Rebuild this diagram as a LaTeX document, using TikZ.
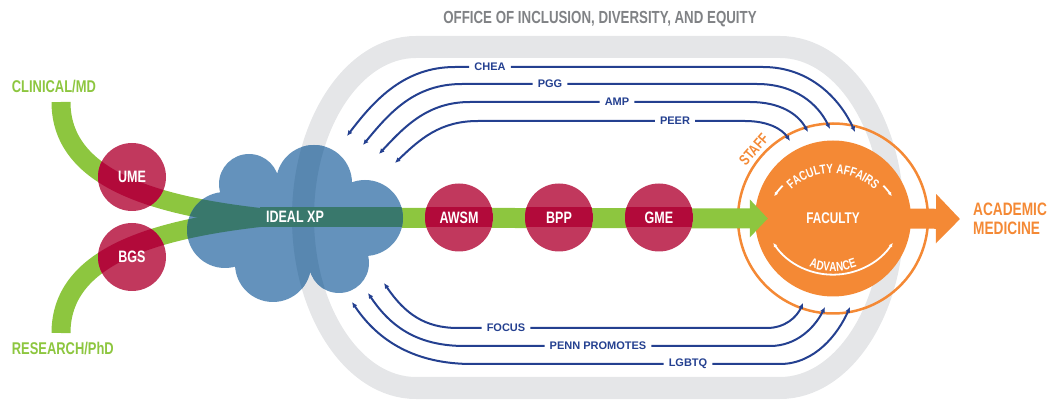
\documentclass[tikz,border=0pt]{standalone}
\usepackage{fontspec}
\setmainfont{Liberation Sans}
\newfontfamily\cnd{Liberation Sans}[FakeStretch=0.76]
\usetikzlibrary{arrows.meta, decorations.text, positioning}
\definecolor{ringgray}{RGB}{229,230,232}
\definecolor{titlegray}{RGB}{128,130,133}
\definecolor{flowgreen}{RGB}{141,198,63}
\definecolor{pennred}{RGB}{193,56,93}
\definecolor{deepred}{RGB}{178,10,58}
\definecolor{cloudblue}{RGB}{100,146,188}
\definecolor{cloudgray}{RGB}{88,135,176}
\definecolor{cloudgreen}{RGB}{57,120,108}
\definecolor{linkblue}{RGB}{36,64,144}
\definecolor{facorange}{RGB}{244,137,53}
\tikzset{
  flow/.style={flowgreen, line width=19pt},
  program/.style={
    circle, minimum size=68pt, inner sep=0pt,
    text=white, font=\cnd\bfseries\fontsize{16.5}{18}\selectfont
  },
  sidelabel/.style={font=\cnd\bfseries\fontsize{17}{19}\selectfont, inner sep=0pt},
  link/.style={linkblue, line width=2pt, -{Latex[length=5.5pt, width=5pt]}},
  linklabel/.style={text=linkblue, font=\bfseries\fontsize{11}{12}\selectfont, inner xsep=5pt, inner ysep=1pt},
  whitearc/.style={white, line width=1.8pt},
  arclabel/.style={decorate, decoration={text along path, text align=center, text color=white}}
}
\def\cloudpuffs{249/215/30, 314/216/38, 365/181/38, 339/136/30, 273/135/38, 225/169/38, 295/177/52}

\begin{document}
\begin{tikzpicture}[x=1pt, y=1pt]
    \useasboundingbox (0,0) rectangle (1047,399);
    % office ring
    \draw[ringgray, line width=22pt] (416,352) -- (780,352)
        arc[start angle=90, end angle=-90, x radius=113, y radius=170.5] -- (416,11)
        arc[start angle=270, end angle=90, x radius=113, y radius=170.5] -- cycle;
    \node[font=\cnd\bfseries\fontsize{17.5}{20}\selectfont, text=titlegray] (office) at (600,380)
        {OFFICE OF INCLUSION, DIVERSITY, AND EQUITY};

    % faculty
    \node[anchor=west, align=left, inner sep=0pt, text=facorange,
        font=\cnd\bfseries\fontsize{18}{19}\selectfont] (acmed) at (973,180) {ACADEMIC\\MEDICINE};
    \node[circle, fill=facorange, minimum size=156pt, inner sep=0pt, text=white,
        font=\cnd\bfseries\fontsize{15.5}{17}\selectfont] (faculty) at (833,180.5) {FACULTY};
    \draw[facorange, line width=20pt, -{Triangle[length=24pt, width=48pt]}]
        ([xshift=-3pt]faculty.east) -- ([xshift=-13pt]acmed.west);
    \draw[facorange, line width=2.5pt] (faculty.center) circle[radius=95];
    \node[text=facorange, rotate=49, inner sep=0pt, font=\cnd\bfseries\fontsize{15}{16}\selectfont] (staff)
        at ([shift={(139:105)}]faculty.center) {STAFF};
    \coordinate (affairs) at (833,164.7);
    \coordinate (advance) at (833,196.3);
    \draw[whitearc, -{Latex[length=4pt, width=4pt]}] ([shift={(136:70)}]affairs) arc[start angle=136, end angle=147, radius=70];
    \draw[whitearc, -{Latex[length=4pt, width=4pt]}] ([shift={(44:70)}]affairs) arc[start angle=44, end angle=33, radius=70];
    \path[arclabel, decoration={text={|\cnd\bfseries\fontsize{13}{13}\selectfont|FACULTY AFFAIRS}}]
        ([shift={(150:61)}]affairs) arc[start angle=150, end angle=30, radius=61];
    \draw[whitearc, {Latex[length=4pt, width=4pt]}-{Latex[length=4pt, width=4pt]}]
        ([shift={(214:72)}]advance) arc[start angle=214, end angle=326, radius=72];
    \path[arclabel, decoration={text={|\cnd\bfseries\fontsize{13}{13}\selectfont|ADVANCE}}]
        ([shift={(235:68.5)}]advance) arc[start angle=235, end angle=305, radius=68.5];

    % pathways
    \node[sidelabel, text=flowgreen, anchor=base west] (md) at (11.7,306.7) {CLINICAL/MD};
    \node[sidelabel, text=flowgreen, anchor=base west] (phd) at (11.7,45) {RESEARCH/PhD};
    \coordinate (md-in) at (61,297);
    \coordinate (phd-in) at (61,66);
    \coordinate (merge) at (260,181.5);
    \draw[flow] (md-in) .. controls (61,222) and (150,194) .. (merge);
    \draw[flow] (phd-in) .. controls (61,141) and (150,169) .. (merge);
    \draw[flow, line width=20pt, -{Triangle[length=18pt, width=37pt]}] (merge) -- ([xshift=13pt]faculty.west);

    % programs
    \fill[pennred] (132,222) circle[radius=34];
    \fill[pennred] (132,142) circle[radius=34];
    \begin{scope}
        \clip (132,222) circle[radius=34];
        \draw[flow, deepred] (md-in) .. controls (61,222) and (150,194) .. (merge);
    \end{scope}
    \begin{scope}
        \clip (132,142) circle[radius=34];
        \draw[flow, deepred] (phd-in) .. controls (61,141) and (150,169) .. (merge);
    \end{scope}
    \node[program] (ume) at (132,222) {UME};
    \node[program] (bgs) at (132,142) {BGS};
    \foreach \nm/\x/\txt in {awsm/459/AWSM, bpp/559/BPP, gme/659/GME} {
        \fill[pennred] (\x,181.5) circle[radius=34];
        \begin{scope}
            \clip (\x,181.5) circle[radius=34];
            \fill[deepred] (\x-34,171.5) rectangle (\x+34,191.5);
        \end{scope}
        \node[program] (\nm) at (\x,181.5) {\txt};
    }

    % ideal xp cloud
    \fill[cloudblue] \foreach \x/\y/\r in \cloudpuffs {(\x,\y) circle[radius=\r]};
    \begin{scope}
        \clip \foreach \x/\y/\r in \cloudpuffs {(\x,\y) circle[radius=\r]};
        \draw[cloudgray, line width=22pt] (416,352) arc[start angle=90, end angle=270, x radius=113, y radius=170.5];
        \draw[flow, cloudgreen] (md-in) .. controls (61,222) and (150,194) .. (merge);
        \draw[flow, cloudgreen] (phd-in) .. controls (61,141) and (150,169) .. (merge);
        \draw[cloudgreen, line width=20pt] (merge) -- (420,181.5);
    \end{scope}
    \node[text=white, font=\cnd\bfseries\fontsize{16.5}{18}\selectfont] (ideal) at (295,182) {IDEAL XP};

    % links
    \node[linklabel] (chea) at (490,332) {CHEA};
    \draw[link] (chea) -- (455,332) .. controls (405,332) and (375,300) .. (347,263);
    \draw[link] (chea) -- (763,332) .. controls (810,332) and (840,300) .. (855,267);
    \node[linklabel] (pgg) at (550,315) {PGG};
    \draw[link] (pgg) -- (462,315) .. controls (415,315) and (390,287) .. (363,254);
    \draw[link] (pgg) -- (757,315) .. controls (795,315) and (818,295) .. (830,270);
    \node[linklabel] (amp) at (617,297) {AMP};
    \draw[link] (amp) -- (470,297) .. controls (428,297) and (405,273) .. (379,245);
    \draw[link] (amp) -- (750,297) .. controls (780,297) and (798,285) .. (808,267);
    \node[linklabel] (peer) at (675,278) {PEER};
    \draw[link] (peer) -- (478,278) .. controls (440,278) and (420,260) .. (395,236);
    \draw[link] (peer) -- (745,278) .. controls (768,278) and (782,270) .. (790,258);
    \node[linklabel] (focus) at (506,71) {FOCUS};
    \draw[link] (focus) -- (458,71) .. controls (425,71) and (405,85) .. (384,116);
    \draw[link] (focus) -- (767,71) .. controls (785,71) and (797,82) .. (803,96);
    \node[linklabel] (promotes) at (598,53) {PENN PROMOTES};
    \draw[link] (promotes) -- (465,53) .. controls (420,53) and (392,70) .. (368,106);
    \draw[link] (promotes) -- (770,53) .. controls (797,53) and (815,72) .. (825,92);
    \node[linklabel] (lgbtq) at (688,35) {LGBTQ};
    \draw[link] (lgbtq) -- (472,35) .. controls (415,35) and (378,58) .. (352,97);
    \draw[link] (lgbtq) -- (780,35) .. controls (815,35) and (838,65) .. (850,92);
\end{tikzpicture}
\end{document}
